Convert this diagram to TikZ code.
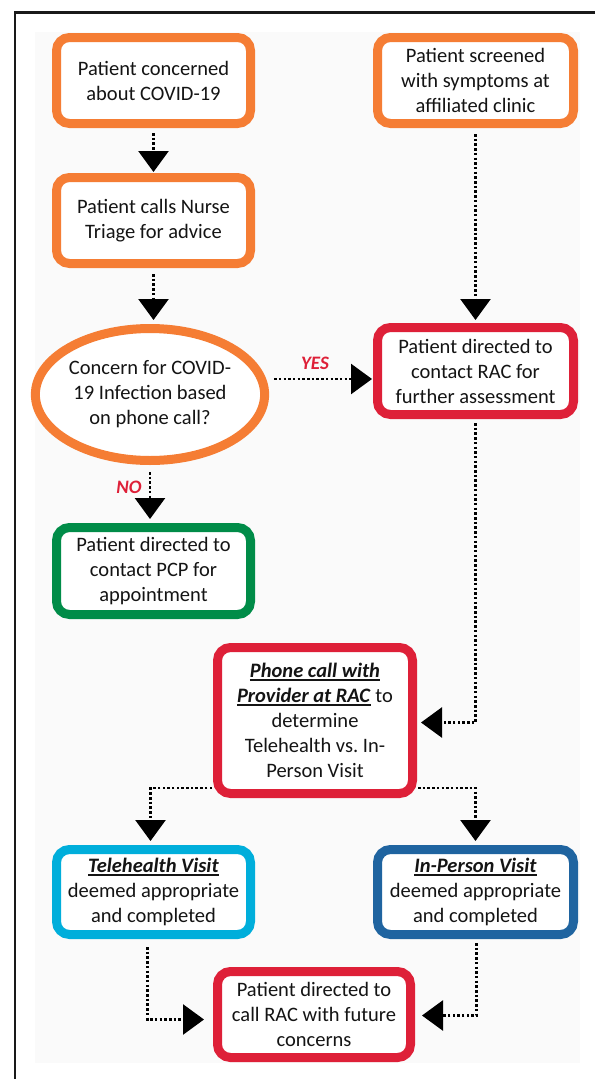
\documentclass[tikz,border=0pt]{standalone}
\usepackage{fontspec}
\setmainfont{Carlito}
\usetikzlibrary{arrows.meta,shapes.geometric,calc}
\definecolor{orng}{RGB}{245,125,52}
\definecolor{rred}{RGB}{222,32,56}
\definecolor{grn}{RGB}{0,140,72}
\definecolor{lblue}{RGB}{0,174,219}
\definecolor{dblue}{RGB}{31,100,160}
\definecolor{txt}{RGB}{20,20,20}
\definecolor{bgc}{RGB}{250,250,250}
\newcommand{\ubi}[1]{\setbox0\hbox{\textbf{\textit{#1}}}\rlap{\rule[-3.4pt]{\wd0}{1.8pt}}\box0\relax}
\frenchspacing
\begin{document}
\begin{tikzpicture}[x=1pt,y=-1pt,
  box/.style={draw, line width=9pt, rounded corners=13pt, fill=white,
    align=center, inner sep=0pt, text=txt,
    font=\fontsize{20.5}{25}\selectfont},
  conn/.style={draw=black, line width=2.6pt, dash pattern=on 2.5pt off 2.2pt,
    -{Triangle[width=30pt,length=21pt]}},
  lbl/.style={text=rred, font=\fontsize{19}{20}\selectfont\bfseries\itshape, inner sep=0pt}
]
\useasboundingbox (0,0) rectangle (595,1079);
\fill[white] (0,0) rectangle (595,1079);
\fill[bgc] (35,32) rectangle (580,1063);
\draw[line width=2.6pt, black!90] (15,1079) -- (15,12.5) -- (595,12.5);

\node[box, draw=orng, minimum width=194pt, minimum height=86pt] (b1) at (153.5,80.5)
  {Patient concerned\\about COVID-19};
\node[box, draw=orng, minimum width=194pt, minimum height=86pt] (b2) at (153.5,220.5)
  {Patient calls Nurse\\Triage for advice};
\node[box, draw=orng, ellipse, rounded corners=0pt, minimum width=217pt, minimum height=132pt] (ell) at (150,394.5)
  {Concern for COVID-\\19 Infection based\\on phone call?};
\node[box, draw=orng, minimum width=196pt, minimum height=86pt] (b3) at (475.5,80.5)
  {Patient screened\\with symptoms at\\affiliated clinic};
\node[box, draw=rred, minimum width=196pt, minimum height=87pt] (rac) at (475.5,371)
  {Patient directed to\\contact RAC for\\further assessment};
\node[box, draw=grn, minimum width=194pt, minimum height=87pt] (pcp) at (153.5,571)
  {Patient directed to\\contact PCP for\\appointment};
\node[box, draw=rred, minimum width=195pt, minimum height=146pt] (phone) at (315,720.5)
  {\ubi{Phone call with}\\\ubi{Provider at RAC} to\\determine\\Telehealth vs.\ In-\\Person Visit};
\node[box, draw=lblue, minimum width=194pt, minimum height=85pt] (tele) at (153.5,892)
  {\ubi{Telehealth Visit}\\deemed appropriate\\and completed};
\node[box, draw=dblue, minimum width=196pt, minimum height=85pt] (inp) at (475.5,892)
  {\ubi{In-Person Visit}\\deemed appropriate\\and completed};
\node[box, draw=rred, minimum width=193pt, minimum height=86pt] (fin) at (314,1014.5)
  {Patient directed to\\call RAC with future\\concerns};

\draw[conn, shorten <=5pt, shorten >=1pt] (b1.south) -- (b2.north);
\draw[conn, shorten <=6pt, shorten >=4pt] (b2.south) -- (b2.south |- ell.north);
\draw[conn, shorten <=7pt, shorten >=4pt] (ell.south) -- (ell.south |- pcp.north);
\draw[conn, shorten <=6pt, shorten >=3pt] (b3.south) -- (rac.north);
\coordinate (yesend) at ($(rac.west)+(0,8)$);
\draw[conn, shorten <=5pt, shorten >=1pt] (ell.east |- yesend) -- (yesend);
\node[lbl] (yes) at (315,363) {YES};
\node[lbl] (no) at (129,487) {NO};
\draw[conn, shorten <=4pt, shorten >=4pt] (rac.south) |- ($(phone.east)+(0,2)$);
\coordinate (pl) at ($(phone.south west)+(0,-10)$);
\coordinate (pr) at ($(phone.south east)+(0,-10)$);
\draw[conn, shorten <=1pt, shorten >=4pt] (pl) -| ($(tele.north)+(-3,0)$);
\draw[conn, shorten <=1pt, shorten >=4pt] (pr) -| (inp.north);
\draw[conn, shorten <=8pt, shorten >=9pt] ($(tele.south)+(-6,0)$) |- ($(fin.west)+(0,5)$);
\draw[conn, shorten <=4pt, shorten >=7pt] ($(inp.south)+(1,0)$) |- ($(fin.east)+(0,1)$);
\end{tikzpicture}
\end{document}
